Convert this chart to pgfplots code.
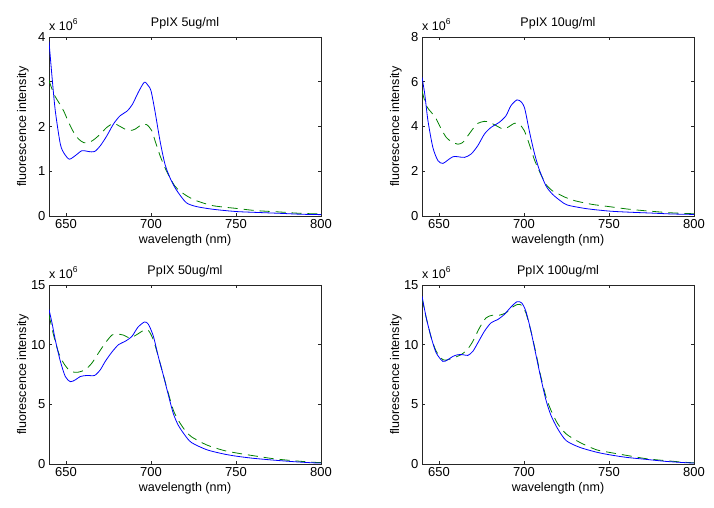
\documentclass[border=0pt]{standalone}
\usepackage{pgfplots}
\pgfplotsset{compat=1.18}
\usepackage{fontspec}
\setmainfont{Liberation Sans}
\definecolor{mblue}{RGB}{0,0,255}
\definecolor{mgreen}{RGB}{0,128,0}
\newcommand{\fs}{\fontsize{12.5}{14}\selectfont}
\newcommand{\ft}{\fontsize{13}{15}\selectfont}
\pgfplotsset{
  panel/.style={
    scale only axis, width=272pt, height=179pt, anchor=south west,
    xmin=640, xmax=800, ymin=0,
    xtick={650,700,750,800},
    clip mode=individual,
    tick align=inside, xtick pos=both, ytick pos=both,
    major tick length=3pt,
    axis line style={black!85, line width=0.6pt},
    every tick/.style={black!85, line width=0.6pt},
    /pgf/number format/assume math mode=true,
    tick label style={font=\ft, black},
    xticklabel style={/pgf/number format/1000 sep={}},
    xlabel={wavelength (nm)},
    ylabel={fluorescence intensity},
    x label style={font=\fs, at={(axis description cs:0.5,-0.134)}, anchor=center},
    y label style={font=\fs, at={(axis description cs:-0.0956,0.5)}, anchor=center},
    every axis title shift=0pt,
    title style={font=\fs, at={(axis description cs:0.5,1.078)}, anchor=center, yshift=0pt},
    scaled y ticks=false,
  },
  bl/.style={mblue, line width=0.8pt, smooth, tension=0.45},
  gr/.style={mgreen, line width=0.8pt, dash pattern=on 10pt off 6pt, smooth, tension=0.45},
}
\newcommand{\expo}{\node[anchor=base west, inner sep=0pt, font=\fs] at ([yshift=6.5pt]rel axis cs:0,1) {x 10\raisebox{0.45em}{\fontsize{8.5}{9}\selectfont 6}};}
\begin{document}
\begin{tikzpicture}
\useasboundingbox (0,0) rectangle (714pt,508pt);
% Top-left
\begin{axis}[panel, at={(49pt,292pt)}, ymax=4, ytick={0,1,2,3,4}, title={PpIX 5ug/ml}]
\addplot[gr] coordinates {(640,3.03)(642.8,2.73)(645.7,2.54)(648.6,2.35)(651.6,2.09)(654.5,1.87)(657.4,1.72)(660.4,1.64)(663.3,1.64)(666.2,1.70)(670.2,1.83)(674,1.98)(678,2.07)(680.9,2.02)(684.8,1.94)(687.7,1.91)(690.6,1.94)(694.5,2.04)(697.5,2.04)(700.4,1.91)(702.4,1.68)(705.3,1.35)(708.2,1.08)(711.1,0.86)(714,0.67)(717,0.56)(721,0.45)(726.8,0.34)(736.5,0.23)(750,0.17)(762,0.12)(775.6,0.09)(787.4,0.06)(800,0.045)};
\addplot[bl] coordinates {(640,3.9)(641.8,3.1)(643.7,2.35)(646.7,1.6)(649.2,1.38)(652,1.27)(655.5,1.35)(659.4,1.46)(663.3,1.44)(666.8,1.44)(670.2,1.57)(674,1.79)(678,2.06)(681.8,2.24)(685.8,2.34)(689,2.49)(692.6,2.77)(696.1,2.99)(698.4,2.91)(700,2.80)(702.3,2.35)(705.3,1.68)(708.2,1.16)(711.1,0.86)(714,0.64)(717,0.47)(721,0.29)(726.8,0.21)(736.5,0.15)(750,0.10)(762,0.08)(775.6,0.06)(787.4,0.04)(800,0.03)};
\expo
\end{axis}
% Top-right
\begin{axis}[panel, at={(422pt,292pt)}, ymax=8, ytick={0,2,4,6,8}, title={PpIX 10ug/ml}]
\addplot[gr] coordinates {(640,5.6)(642.5,4.93)(645.5,4.63)(648.4,4.33)(651.3,3.89)(654.3,3.51)(657.2,3.33)(661.1,3.21)(664,3.29)(667,3.59)(669.9,3.89)(672.8,4.14)(676.7,4.23)(679.6,4.19)(683.6,4.04)(687.5,3.89)(690.4,3.96)(694.3,4.14)(697.2,4.11)(700.2,3.81)(703.1,3.21)(706,2.54)(708.9,2.02)(712.9,1.42)(716.8,1.12)(720.7,0.97)(723.8,0.85)(730,0.68)(740,0.52)(750,0.42)(762,0.3)(775,0.21)(787,0.14)(800,0.1)};
\addplot[bl] coordinates {(640,6.2)(641.6,5.46)(643.5,4.26)(646.4,3.06)(649.4,2.47)(652.3,2.35)(655.2,2.50)(658.2,2.65)(661.1,2.65)(665,2.62)(668.9,2.77)(672.8,3.14)(676.7,3.66)(680.6,3.96)(685.5,4.19)(689.4,4.48)(692.3,4.93)(695.9,5.19)(698.6,5.08)(700.5,4.78)(703.1,3.81)(706,2.84)(708.9,2.09)(712.9,1.35)(716.8,0.97)(721.6,0.67)(725.5,0.49)(736.5,0.33)(750,0.22)(762,0.17)(775,0.13)(787,0.09)(800,0.07)};
\expo
\end{axis}
% Bottom-left
\begin{axis}[panel, at={(49pt,44pt)}, ymax=15, ytick={0,5,10,15}, title={PpIX 50ug/ml}]
\addplot[gr] coordinates {(640,12.5)(642.7,10.8)(645.7,9.3)(648.6,8.45)(651.6,7.9)(654.5,7.7)(657.4,7.7)(661.3,7.9)(665.2,8.45)(669.1,9.3)(673.1,10.14)(677,10.8)(679.9,10.9)(683.8,10.8)(687.7,10.56)(691.6,10.84)(695.5,11.18)(698.5,11.18)(701.4,10.4)(704.3,9.0)(707.2,7.47)(710.2,5.93)(713.1,4.52)(716,3.68)(719.9,2.84)(723.8,2.28)(732.7,1.6)(742.4,1.15)(750,0.93)(760,0.7)(771.7,0.45)(783.4,0.28)(795,0.15)(800,0.12)};
\addplot[bl] coordinates {(640,12.95)(641.8,11.8)(643.7,10.4)(646.7,8.6)(649.6,7.33)(652.5,6.9)(655.5,7.05)(658.4,7.33)(662.3,7.42)(666.8,7.42)(670.2,7.9)(673.1,8.6)(677,9.38)(680.9,10.0)(684.8,10.28)(688.8,10.7)(692.3,11.46)(696.2,11.9)(698.5,11.7)(701.4,10.7)(704.3,9.0)(707.2,7.47)(710.2,5.79)(713.1,4.24)(716,3.26)(719.9,2.42)(723.8,1.8)(732.7,1.2)(742.4,0.85)(750,0.66)(760,0.48)(771.7,0.33)(783.4,0.2)(795,0.1)(800,0.08)};
\expo
\end{axis}
% Bottom-right
\begin{axis}[panel, at={(422pt,44pt)}, ymax=15, ytick={0,5,10,15}, title={PpIX 100ug/ml}]
\addplot[gr] coordinates {(640,13.93)(642.5,12.25)(645.5,10.56)(648.4,9.44)(652.3,8.74)(655.2,8.74)(659.1,8.93)(663,9.16)(666.6,9.58)(669.9,10.28)(673.8,11.4)(677.7,12.25)(681.6,12.47)(685.5,12.47)(689.4,12.67)(693.3,13.15)(696.2,13.37)(698.6,13.3)(701.1,12.67)(704.1,11.12)(707,9.3)(709.9,7.33)(712.9,5.65)(715.8,4.52)(719.7,3.4)(724.8,2.52)(732.7,1.82)(742.4,1.2)(750,0.98)(760,0.73)(771.7,0.45)(783.4,0.28)(795,0.14)(800,0.1)};
\addplot[bl] coordinates {(640,14.07)(642.5,12.25)(645.5,10.56)(648.4,9.3)(652.3,8.6)(655.2,8.74)(658.2,9.02)(661.1,9.16)(664.1,9.16)(667,9.1)(669.9,9.44)(672.8,10.14)(676.7,11.12)(680.6,11.83)(684.5,12.1)(688.4,12.53)(692.3,13.15)(695.9,13.6)(698.6,13.5)(701.1,12.8)(704.1,11.12)(707,9.16)(709.9,7.2)(712.9,5.37)(715.8,4.1)(719.7,2.98)(724.8,1.96)(732.7,1.4)(742.4,1.0)(750,0.78)(760,0.56)(771.7,0.39)(783.4,0.22)(795,0.11)(800,0.08)};
\expo
\end{axis}
\end{tikzpicture}
\end{document}
